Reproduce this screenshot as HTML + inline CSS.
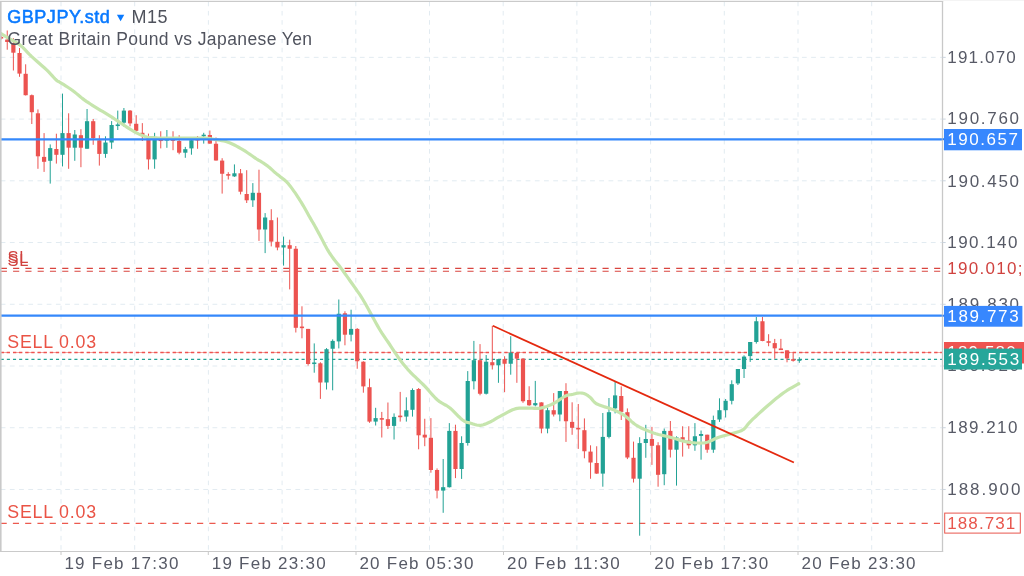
<!DOCTYPE html>
<html><head><meta charset="utf-8"><style>
html,body{margin:0;padding:0;background:#fff;width:1024px;height:576px;overflow:hidden}
</style></head><body>
<svg width="1024" height="576" viewBox="0 0 1024 576" style="position:absolute;left:0;top:0;will-change:transform">
<line x1="0.64" y1="57.35" x2="942.5" y2="57.35" stroke="#e2ebf1" stroke-width="1" stroke-dasharray="4.8 4.41"/>
<line x1="0.64" y1="119.08" x2="942.5" y2="119.08" stroke="#e2ebf1" stroke-width="1" stroke-dasharray="4.8 4.41"/>
<line x1="0.64" y1="180.81" x2="942.5" y2="180.81" stroke="#e2ebf1" stroke-width="1" stroke-dasharray="4.8 4.41"/>
<line x1="0.64" y1="242.54" x2="942.5" y2="242.54" stroke="#e2ebf1" stroke-width="1" stroke-dasharray="4.8 4.41"/>
<line x1="0.64" y1="304.27" x2="942.5" y2="304.27" stroke="#e2ebf1" stroke-width="1" stroke-dasharray="4.8 4.41"/>
<line x1="0.64" y1="366.00" x2="942.5" y2="366.00" stroke="#e2ebf1" stroke-width="1" stroke-dasharray="4.8 4.41"/>
<line x1="0.64" y1="427.73" x2="942.5" y2="427.73" stroke="#e2ebf1" stroke-width="1" stroke-dasharray="4.8 4.41"/>
<line x1="0.64" y1="489.46" x2="942.5" y2="489.46" stroke="#e2ebf1" stroke-width="1" stroke-dasharray="4.8 4.41"/>
<line x1="61.00" y1="1.69" x2="61.00" y2="551.0" stroke="#e2ebf1" stroke-width="1" stroke-dasharray="4.6 4.61"/>
<line x1="134.70" y1="1.69" x2="134.70" y2="551.0" stroke="#e2ebf1" stroke-width="1" stroke-dasharray="4.6 4.61"/>
<line x1="208.40" y1="1.69" x2="208.40" y2="551.0" stroke="#e2ebf1" stroke-width="1" stroke-dasharray="4.6 4.61"/>
<line x1="282.10" y1="1.69" x2="282.10" y2="551.0" stroke="#e2ebf1" stroke-width="1" stroke-dasharray="4.6 4.61"/>
<line x1="355.80" y1="1.69" x2="355.80" y2="551.0" stroke="#e2ebf1" stroke-width="1" stroke-dasharray="4.6 4.61"/>
<line x1="429.50" y1="1.69" x2="429.50" y2="551.0" stroke="#e2ebf1" stroke-width="1" stroke-dasharray="4.6 4.61"/>
<line x1="503.20" y1="1.69" x2="503.20" y2="551.0" stroke="#e2ebf1" stroke-width="1" stroke-dasharray="4.6 4.61"/>
<line x1="576.90" y1="1.69" x2="576.90" y2="551.0" stroke="#e2ebf1" stroke-width="1" stroke-dasharray="4.6 4.61"/>
<line x1="650.60" y1="1.69" x2="650.60" y2="551.0" stroke="#e2ebf1" stroke-width="1" stroke-dasharray="4.6 4.61"/>
<line x1="724.30" y1="1.69" x2="724.30" y2="551.0" stroke="#e2ebf1" stroke-width="1" stroke-dasharray="4.6 4.61"/>
<line x1="798.00" y1="1.69" x2="798.00" y2="551.0" stroke="#e2ebf1" stroke-width="1" stroke-dasharray="4.6 4.61"/>
<line x1="871.70" y1="1.69" x2="871.70" y2="551.0" stroke="#e2ebf1" stroke-width="1" stroke-dasharray="4.6 4.61"/>
<line x1="0" y1="268.4" x2="942.5" y2="268.4" stroke="#d9443f" stroke-width="1.1" stroke-dasharray="6.14 6.14" stroke-dashoffset="-0.8"/>
<line x1="0" y1="271.3" x2="942.5" y2="271.3" stroke="#d9443f" stroke-width="1.1" stroke-dasharray="6.14 6.14" stroke-dashoffset="-0.8"/>
<line x1="0.6" y1="523.4" x2="942.5" y2="523.4" stroke="#ec5a4f" stroke-width="1.3" stroke-dasharray="6.14 6.14"/>
<line x1="0.7" y1="352.5" x2="942.5" y2="352.5" stroke="#f3a7a2" stroke-width="1.2" stroke-dasharray="9.3 2.983"/>
<line x1="0.7" y1="352.5" x2="942.5" y2="352.5" stroke="#ef5350" stroke-width="1.5" stroke-dasharray="3.3 2.7 3.3 2.983"/>
<line x1="0.7" y1="359.4" x2="942.5" y2="359.4" stroke="#22a295" stroke-width="1.4" stroke-dasharray="3.1 3.04"/>
<rect x="0.60" y="36.00" width="1.0" height="3.50" fill="#ec5350"/>
<rect x="-1.00" y="36.95" width="4.2" height="1.60" fill="#ec5350"/>
<rect x="6.74" y="30.50" width="1.0" height="19.20" fill="#ec5350"/>
<rect x="5.14" y="39.60" width="4.2" height="2.40" fill="#ec5350"/>
<rect x="12.88" y="38.20" width="1.0" height="32.30" fill="#ec5350"/>
<rect x="11.28" y="43.00" width="4.2" height="9.70" fill="#ec5350"/>
<rect x="19.02" y="48.00" width="1.0" height="28.80" fill="#ec5350"/>
<rect x="17.42" y="53.00" width="4.2" height="20.60" fill="#ec5350"/>
<rect x="25.16" y="64.30" width="1.0" height="31.20" fill="#ec5350"/>
<rect x="23.56" y="73.80" width="4.2" height="21.40" fill="#ec5350"/>
<rect x="31.30" y="94.50" width="1.0" height="29.50" fill="#ec5350"/>
<rect x="29.70" y="95.20" width="4.2" height="17.00" fill="#ec5350"/>
<rect x="37.44" y="109.40" width="1.0" height="59.40" fill="#ec5350"/>
<rect x="35.84" y="113.30" width="4.2" height="43.00" fill="#ec5350"/>
<rect x="43.58" y="133.10" width="1.0" height="38.80" fill="#ec5350"/>
<rect x="41.98" y="156.90" width="4.2" height="4.90" fill="#ec5350"/>
<rect x="49.72" y="144.40" width="1.0" height="39.20" fill="#22a295"/>
<rect x="48.12" y="148.10" width="4.2" height="12.70" fill="#22a295"/>
<rect x="55.86" y="133.70" width="1.0" height="29.90" fill="#ec5350"/>
<rect x="54.26" y="149.00" width="4.2" height="5.80" fill="#ec5350"/>
<rect x="62.00" y="93.60" width="1.0" height="72.80" fill="#22a295"/>
<rect x="60.40" y="133.10" width="4.2" height="21.70" fill="#22a295"/>
<rect x="68.14" y="113.30" width="1.0" height="55.50" fill="#ec5350"/>
<rect x="66.54" y="133.10" width="4.2" height="14.60" fill="#ec5350"/>
<rect x="74.28" y="130.00" width="1.0" height="30.80" fill="#22a295"/>
<rect x="72.68" y="134.50" width="4.2" height="13.20" fill="#22a295"/>
<rect x="80.42" y="129.20" width="1.0" height="38.00" fill="#ec5350"/>
<rect x="78.82" y="135.20" width="4.2" height="12.50" fill="#ec5350"/>
<rect x="86.56" y="109.00" width="1.0" height="39.80" fill="#22a295"/>
<rect x="84.96" y="121.20" width="4.2" height="27.55" fill="#22a295"/>
<rect x="92.70" y="119.00" width="1.0" height="25.80" fill="#ec5350"/>
<rect x="91.10" y="121.20" width="4.2" height="16.90" fill="#ec5350"/>
<rect x="98.84" y="135.20" width="1.0" height="30.40" fill="#ec5350"/>
<rect x="97.24" y="140.30" width="4.2" height="13.60" fill="#ec5350"/>
<rect x="104.98" y="136.30" width="1.0" height="21.50" fill="#22a295"/>
<rect x="103.38" y="142.50" width="4.2" height="11.40" fill="#22a295"/>
<rect x="111.12" y="121.10" width="1.0" height="27.70" fill="#22a295"/>
<rect x="109.52" y="125.00" width="4.2" height="17.50" fill="#22a295"/>
<rect x="117.26" y="110.60" width="1.0" height="19.40" fill="#22a295"/>
<rect x="115.66" y="124.45" width="4.2" height="1.60" fill="#22a295"/>
<rect x="123.40" y="108.00" width="1.0" height="18.60" fill="#22a295"/>
<rect x="121.80" y="110.60" width="4.2" height="12.10" fill="#22a295"/>
<rect x="129.54" y="110.00" width="1.0" height="16.30" fill="#ec5350"/>
<rect x="127.94" y="110.60" width="4.2" height="12.80" fill="#ec5350"/>
<rect x="135.68" y="115.20" width="1.0" height="16.10" fill="#ec5350"/>
<rect x="134.08" y="123.80" width="4.2" height="7.00" fill="#ec5350"/>
<rect x="141.82" y="123.10" width="1.0" height="17.90" fill="#ec5350"/>
<rect x="140.22" y="132.80" width="4.2" height="3.20" fill="#ec5350"/>
<rect x="147.96" y="133.60" width="1.0" height="35.90" fill="#ec5350"/>
<rect x="146.36" y="138.30" width="4.2" height="21.10" fill="#ec5350"/>
<rect x="154.10" y="132.80" width="1.0" height="35.95" fill="#22a295"/>
<rect x="152.50" y="137.10" width="4.2" height="22.30" fill="#22a295"/>
<rect x="160.24" y="131.25" width="1.0" height="17.15" fill="#ec5350"/>
<rect x="158.64" y="139.45" width="4.2" height="1.60" fill="#ec5350"/>
<rect x="166.38" y="130.00" width="1.0" height="17.80" fill="#22a295"/>
<rect x="164.78" y="139.00" width="4.2" height="1.60" fill="#22a295"/>
<rect x="172.52" y="131.25" width="1.0" height="18.95" fill="#ec5350"/>
<rect x="170.92" y="139.20" width="4.2" height="1.60" fill="#ec5350"/>
<rect x="178.66" y="135.20" width="1.0" height="19.10" fill="#ec5350"/>
<rect x="177.06" y="141.00" width="4.2" height="11.70" fill="#ec5350"/>
<rect x="184.80" y="146.90" width="1.0" height="10.90" fill="#22a295"/>
<rect x="183.20" y="149.20" width="4.2" height="3.50" fill="#22a295"/>
<rect x="190.94" y="138.50" width="1.0" height="16.20" fill="#22a295"/>
<rect x="189.34" y="140.20" width="4.2" height="8.20" fill="#22a295"/>
<rect x="197.08" y="136.00" width="1.0" height="12.80" fill="#ec5350"/>
<rect x="195.48" y="138.90" width="4.2" height="1.60" fill="#ec5350"/>
<rect x="203.22" y="132.80" width="1.0" height="10.80" fill="#22a295"/>
<rect x="201.62" y="134.70" width="4.2" height="1.60" fill="#22a295"/>
<rect x="209.36" y="130.50" width="1.0" height="13.30" fill="#ec5350"/>
<rect x="207.76" y="135.00" width="4.2" height="8.60" fill="#ec5350"/>
<rect x="215.50" y="137.50" width="1.0" height="23.10" fill="#ec5350"/>
<rect x="213.90" y="143.75" width="4.2" height="16.75" fill="#ec5350"/>
<rect x="221.64" y="158.20" width="1.0" height="35.40" fill="#ec5350"/>
<rect x="220.04" y="160.60" width="4.2" height="13.15" fill="#ec5350"/>
<rect x="227.78" y="172.20" width="1.0" height="7.30" fill="#ec5350"/>
<rect x="226.18" y="174.10" width="4.2" height="1.60" fill="#ec5350"/>
<rect x="233.92" y="164.40" width="1.0" height="12.50" fill="#22a295"/>
<rect x="232.32" y="173.30" width="4.2" height="3.10" fill="#22a295"/>
<rect x="240.06" y="169.00" width="1.0" height="25.40" fill="#ec5350"/>
<rect x="238.46" y="173.30" width="4.2" height="18.40" fill="#ec5350"/>
<rect x="246.20" y="170.20" width="1.0" height="32.80" fill="#ec5350"/>
<rect x="244.60" y="194.00" width="4.2" height="6.30" fill="#ec5350"/>
<rect x="252.34" y="183.10" width="1.0" height="23.80" fill="#22a295"/>
<rect x="250.74" y="192.80" width="4.2" height="7.50" fill="#22a295"/>
<rect x="258.48" y="169.70" width="1.0" height="71.20" fill="#ec5350"/>
<rect x="256.88" y="192.80" width="4.2" height="36.70" fill="#ec5350"/>
<rect x="264.62" y="213.10" width="1.0" height="40.00" fill="#22a295"/>
<rect x="263.02" y="217.50" width="4.2" height="12.00" fill="#22a295"/>
<rect x="270.76" y="209.20" width="1.0" height="37.20" fill="#ec5350"/>
<rect x="269.16" y="220.20" width="4.2" height="21.40" fill="#ec5350"/>
<rect x="276.90" y="217.50" width="1.0" height="32.80" fill="#ec5350"/>
<rect x="275.30" y="241.80" width="4.2" height="5.70" fill="#ec5350"/>
<rect x="283.04" y="236.60" width="1.0" height="29.00" fill="#22a295"/>
<rect x="281.44" y="245.20" width="4.2" height="2.30" fill="#22a295"/>
<rect x="289.18" y="239.70" width="1.0" height="49.70" fill="#ec5350"/>
<rect x="287.58" y="245.20" width="4.2" height="3.55" fill="#ec5350"/>
<rect x="295.32" y="246.00" width="1.0" height="86.50" fill="#ec5350"/>
<rect x="293.72" y="248.75" width="4.2" height="79.05" fill="#ec5350"/>
<rect x="301.46" y="306.30" width="1.0" height="32.00" fill="#ec5350"/>
<rect x="299.86" y="326.55" width="4.2" height="1.60" fill="#ec5350"/>
<rect x="307.60" y="328.90" width="1.0" height="36.70" fill="#ec5350"/>
<rect x="306.00" y="328.90" width="4.2" height="35.10" fill="#ec5350"/>
<rect x="313.74" y="343.40" width="1.0" height="29.30" fill="#22a295"/>
<rect x="312.14" y="362.47" width="4.2" height="1.60" fill="#22a295"/>
<rect x="319.88" y="362.20" width="1.0" height="36.70" fill="#ec5350"/>
<rect x="318.28" y="363.30" width="4.2" height="19.20" fill="#ec5350"/>
<rect x="326.02" y="348.10" width="1.0" height="41.40" fill="#22a295"/>
<rect x="324.42" y="349.20" width="4.2" height="33.30" fill="#22a295"/>
<rect x="332.16" y="339.40" width="1.0" height="50.90" fill="#22a295"/>
<rect x="330.56" y="340.90" width="4.2" height="7.85" fill="#22a295"/>
<rect x="338.30" y="299.50" width="1.0" height="48.90" fill="#22a295"/>
<rect x="336.70" y="313.75" width="4.2" height="27.65" fill="#22a295"/>
<rect x="344.44" y="311.25" width="1.0" height="34.05" fill="#ec5350"/>
<rect x="342.84" y="313.30" width="4.2" height="21.40" fill="#ec5350"/>
<rect x="350.58" y="309.70" width="1.0" height="31.70" fill="#22a295"/>
<rect x="348.98" y="328.90" width="4.2" height="5.80" fill="#22a295"/>
<rect x="356.72" y="328.10" width="1.0" height="40.65" fill="#ec5350"/>
<rect x="355.12" y="328.90" width="4.2" height="32.35" fill="#ec5350"/>
<rect x="362.86" y="361.25" width="1.0" height="31.45" fill="#ec5350"/>
<rect x="361.26" y="361.70" width="4.2" height="24.70" fill="#ec5350"/>
<rect x="369.00" y="378.60" width="1.0" height="44.20" fill="#ec5350"/>
<rect x="367.40" y="387.20" width="4.2" height="34.40" fill="#ec5350"/>
<rect x="375.14" y="407.80" width="1.0" height="17.70" fill="#22a295"/>
<rect x="373.54" y="418.10" width="4.2" height="3.50" fill="#22a295"/>
<rect x="381.28" y="411.90" width="1.0" height="25.60" fill="#ec5350"/>
<rect x="379.68" y="418.10" width="4.2" height="1.60" fill="#ec5350"/>
<rect x="387.42" y="402.50" width="1.0" height="26.50" fill="#ec5350"/>
<rect x="385.82" y="419.20" width="4.2" height="6.70" fill="#ec5350"/>
<rect x="393.56" y="413.40" width="1.0" height="26.10" fill="#22a295"/>
<rect x="391.96" y="416.90" width="4.2" height="9.00" fill="#22a295"/>
<rect x="399.70" y="391.90" width="1.0" height="29.70" fill="#ec5350"/>
<rect x="398.10" y="415.60" width="4.2" height="1.60" fill="#ec5350"/>
<rect x="405.84" y="397.30" width="1.0" height="24.30" fill="#22a295"/>
<rect x="404.24" y="410.30" width="4.2" height="6.30" fill="#22a295"/>
<rect x="411.98" y="388.40" width="1.0" height="28.20" fill="#22a295"/>
<rect x="410.38" y="390.00" width="4.2" height="19.80" fill="#22a295"/>
<rect x="418.12" y="388.00" width="1.0" height="61.30" fill="#ec5350"/>
<rect x="416.52" y="389.00" width="4.2" height="46.30" fill="#ec5350"/>
<rect x="424.26" y="418.75" width="1.0" height="27.45" fill="#ec5350"/>
<rect x="422.66" y="434.70" width="4.2" height="2.80" fill="#ec5350"/>
<rect x="430.40" y="418.10" width="1.0" height="54.60" fill="#ec5350"/>
<rect x="428.80" y="437.80" width="4.2" height="32.20" fill="#ec5350"/>
<rect x="436.54" y="468.40" width="1.0" height="30.00" fill="#ec5350"/>
<rect x="434.94" y="470.00" width="4.2" height="20.60" fill="#ec5350"/>
<rect x="442.68" y="459.00" width="1.0" height="53.80" fill="#22a295"/>
<rect x="441.08" y="487.20" width="4.2" height="3.40" fill="#22a295"/>
<rect x="448.82" y="423.10" width="1.0" height="64.40" fill="#22a295"/>
<rect x="447.22" y="430.90" width="4.2" height="56.30" fill="#22a295"/>
<rect x="454.96" y="424.70" width="1.0" height="53.40" fill="#ec5350"/>
<rect x="453.36" y="430.90" width="4.2" height="38.10" fill="#ec5350"/>
<rect x="461.10" y="436.25" width="1.0" height="42.65" fill="#22a295"/>
<rect x="459.50" y="443.00" width="4.2" height="26.00" fill="#22a295"/>
<rect x="467.24" y="371.10" width="1.0" height="74.50" fill="#22a295"/>
<rect x="465.64" y="381.00" width="4.2" height="62.00" fill="#22a295"/>
<rect x="473.38" y="340.90" width="1.0" height="48.50" fill="#22a295"/>
<rect x="471.78" y="360.20" width="4.2" height="21.05" fill="#22a295"/>
<rect x="479.52" y="344.10" width="1.0" height="51.20" fill="#ec5350"/>
<rect x="477.92" y="360.20" width="4.2" height="33.55" fill="#ec5350"/>
<rect x="485.66" y="355.00" width="1.0" height="39.50" fill="#22a295"/>
<rect x="484.06" y="361.70" width="4.2" height="32.05" fill="#22a295"/>
<rect x="491.80" y="325.80" width="1.0" height="43.70" fill="#ec5350"/>
<rect x="490.20" y="362.20" width="4.2" height="3.10" fill="#ec5350"/>
<rect x="497.94" y="359.10" width="1.0" height="23.70" fill="#22a295"/>
<rect x="496.34" y="359.10" width="4.2" height="6.20" fill="#22a295"/>
<rect x="504.08" y="356.25" width="1.0" height="35.95" fill="#ec5350"/>
<rect x="502.48" y="359.10" width="4.2" height="4.65" fill="#ec5350"/>
<rect x="510.22" y="336.25" width="1.0" height="38.45" fill="#22a295"/>
<rect x="508.62" y="352.80" width="4.2" height="10.95" fill="#22a295"/>
<rect x="516.36" y="351.90" width="1.0" height="30.90" fill="#ec5350"/>
<rect x="514.76" y="352.80" width="4.2" height="5.80" fill="#ec5350"/>
<rect x="522.50" y="358.10" width="1.0" height="44.70" fill="#ec5350"/>
<rect x="520.90" y="358.60" width="4.2" height="42.65" fill="#ec5350"/>
<rect x="528.64" y="386.25" width="1.0" height="19.55" fill="#ec5350"/>
<rect x="527.04" y="400.00" width="4.2" height="5.30" fill="#ec5350"/>
<rect x="534.78" y="380.90" width="1.0" height="25.50" fill="#22a295"/>
<rect x="533.18" y="403.10" width="4.2" height="2.20" fill="#22a295"/>
<rect x="540.92" y="402.30" width="1.0" height="31.00" fill="#ec5350"/>
<rect x="539.32" y="402.40" width="4.2" height="26.20" fill="#ec5350"/>
<rect x="547.06" y="407.80" width="1.0" height="25.50" fill="#22a295"/>
<rect x="545.46" y="410.20" width="4.2" height="18.40" fill="#22a295"/>
<rect x="553.20" y="393.10" width="1.0" height="23.40" fill="#ec5350"/>
<rect x="551.60" y="410.20" width="4.2" height="4.30" fill="#ec5350"/>
<rect x="559.34" y="391.00" width="1.0" height="30.25" fill="#22a295"/>
<rect x="557.74" y="391.00" width="4.2" height="23.50" fill="#22a295"/>
<rect x="565.48" y="383.20" width="1.0" height="58.70" fill="#ec5350"/>
<rect x="563.88" y="391.00" width="4.2" height="30.25" fill="#ec5350"/>
<rect x="571.62" y="402.30" width="1.0" height="32.50" fill="#ec5350"/>
<rect x="570.02" y="421.90" width="4.2" height="5.90" fill="#ec5350"/>
<rect x="577.76" y="404.00" width="1.0" height="44.90" fill="#ec5350"/>
<rect x="576.16" y="427.80" width="4.2" height="1.60" fill="#ec5350"/>
<rect x="583.90" y="418.40" width="1.0" height="39.90" fill="#ec5350"/>
<rect x="582.30" y="430.20" width="4.2" height="21.05" fill="#ec5350"/>
<rect x="590.04" y="445.30" width="1.0" height="33.45" fill="#ec5350"/>
<rect x="588.44" y="451.60" width="4.2" height="10.90" fill="#ec5350"/>
<rect x="596.18" y="446.25" width="1.0" height="27.65" fill="#ec5350"/>
<rect x="594.58" y="463.00" width="4.2" height="10.60" fill="#ec5350"/>
<rect x="602.32" y="413.00" width="1.0" height="73.70" fill="#22a295"/>
<rect x="600.72" y="436.90" width="4.2" height="36.70" fill="#22a295"/>
<rect x="608.46" y="398.00" width="1.0" height="40.40" fill="#22a295"/>
<rect x="606.86" y="412.20" width="4.2" height="24.70" fill="#22a295"/>
<rect x="614.60" y="382.00" width="1.0" height="31.40" fill="#22a295"/>
<rect x="613.00" y="395.40" width="4.2" height="13.00" fill="#22a295"/>
<rect x="620.74" y="386.40" width="1.0" height="33.60" fill="#ec5350"/>
<rect x="619.14" y="396.00" width="4.2" height="15.90" fill="#ec5350"/>
<rect x="626.88" y="408.40" width="1.0" height="50.70" fill="#ec5350"/>
<rect x="625.28" y="412.20" width="4.2" height="45.30" fill="#ec5350"/>
<rect x="633.02" y="441.60" width="1.0" height="40.90" fill="#ec5350"/>
<rect x="631.42" y="457.80" width="4.2" height="20.90" fill="#ec5350"/>
<rect x="639.16" y="437.20" width="1.0" height="98.50" fill="#22a295"/>
<rect x="637.56" y="443.10" width="4.2" height="35.60" fill="#22a295"/>
<rect x="645.30" y="424.80" width="1.0" height="33.00" fill="#22a295"/>
<rect x="643.70" y="439.00" width="4.2" height="4.00" fill="#22a295"/>
<rect x="651.44" y="426.90" width="1.0" height="38.00" fill="#ec5350"/>
<rect x="649.84" y="439.00" width="4.2" height="6.80" fill="#ec5350"/>
<rect x="657.58" y="442.20" width="1.0" height="44.50" fill="#ec5350"/>
<rect x="655.98" y="445.30" width="4.2" height="29.50" fill="#ec5350"/>
<rect x="663.72" y="428.50" width="1.0" height="56.70" fill="#22a295"/>
<rect x="662.12" y="430.90" width="4.2" height="43.30" fill="#22a295"/>
<rect x="669.86" y="421.00" width="1.0" height="36.50" fill="#ec5350"/>
<rect x="668.26" y="430.90" width="4.2" height="18.80" fill="#ec5350"/>
<rect x="676.00" y="436.30" width="1.0" height="49.30" fill="#22a295"/>
<rect x="674.40" y="437.40" width="4.2" height="12.30" fill="#22a295"/>
<rect x="682.14" y="426.25" width="1.0" height="30.35" fill="#ec5350"/>
<rect x="680.54" y="437.20" width="4.2" height="2.60" fill="#ec5350"/>
<rect x="688.28" y="426.25" width="1.0" height="22.50" fill="#ec5350"/>
<rect x="686.68" y="440.60" width="4.2" height="4.70" fill="#ec5350"/>
<rect x="694.42" y="423.10" width="1.0" height="27.70" fill="#22a295"/>
<rect x="692.82" y="436.25" width="4.2" height="9.05" fill="#22a295"/>
<rect x="700.56" y="430.50" width="1.0" height="29.20" fill="#22a295"/>
<rect x="698.96" y="434.00" width="4.2" height="1.90" fill="#22a295"/>
<rect x="706.70" y="434.70" width="1.0" height="18.10" fill="#ec5350"/>
<rect x="705.10" y="434.70" width="4.2" height="15.00" fill="#ec5350"/>
<rect x="712.84" y="415.60" width="1.0" height="37.20" fill="#22a295"/>
<rect x="711.24" y="420.00" width="4.2" height="29.70" fill="#22a295"/>
<rect x="718.98" y="398.30" width="1.0" height="23.60" fill="#22a295"/>
<rect x="717.38" y="410.20" width="4.2" height="9.30" fill="#22a295"/>
<rect x="725.12" y="399.00" width="1.0" height="18.50" fill="#22a295"/>
<rect x="723.52" y="400.80" width="4.2" height="9.40" fill="#22a295"/>
<rect x="731.26" y="380.30" width="1.0" height="24.10" fill="#22a295"/>
<rect x="729.66" y="384.20" width="4.2" height="16.60" fill="#22a295"/>
<rect x="737.40" y="369.00" width="1.0" height="16.00" fill="#22a295"/>
<rect x="735.80" y="369.00" width="4.2" height="14.40" fill="#22a295"/>
<rect x="743.54" y="355.30" width="1.0" height="22.70" fill="#22a295"/>
<rect x="741.94" y="356.60" width="4.2" height="12.40" fill="#22a295"/>
<rect x="749.68" y="342.00" width="1.0" height="19.90" fill="#22a295"/>
<rect x="748.08" y="342.00" width="4.2" height="14.10" fill="#22a295"/>
<rect x="755.82" y="317.00" width="1.0" height="26.60" fill="#22a295"/>
<rect x="754.22" y="321.25" width="4.2" height="20.75" fill="#22a295"/>
<rect x="761.96" y="317.00" width="1.0" height="24.25" fill="#ec5350"/>
<rect x="760.36" y="321.25" width="4.2" height="19.75" fill="#ec5350"/>
<rect x="768.10" y="334.20" width="1.0" height="12.05" fill="#ec5350"/>
<rect x="766.50" y="341.22" width="4.2" height="1.60" fill="#ec5350"/>
<rect x="774.24" y="338.90" width="1.0" height="19.85" fill="#ec5350"/>
<rect x="772.64" y="343.10" width="4.2" height="5.20" fill="#ec5350"/>
<rect x="780.38" y="338.90" width="1.0" height="10.90" fill="#ec5350"/>
<rect x="778.78" y="348.47" width="4.2" height="1.60" fill="#ec5350"/>
<rect x="786.52" y="350.30" width="1.0" height="12.00" fill="#ec5350"/>
<rect x="784.92" y="350.30" width="4.2" height="8.10" fill="#ec5350"/>
<rect x="792.66" y="351.90" width="1.0" height="9.70" fill="#ec5350"/>
<rect x="791.06" y="359.20" width="4.2" height="1.60" fill="#ec5350"/>
<rect x="798.80" y="357.20" width="1.0" height="5.60" fill="#22a295"/>
<rect x="797.20" y="359.20" width="4.2" height="1.60" fill="#22a295"/>
<path d="M0.00,33.00 L1.08,33.65 L2.58,34.55 L4.36,35.61 L6.27,36.76 L8.20,37.92 L10.00,39.00 L11.69,39.97 L13.39,40.88 L15.09,41.79 L16.81,42.78 L18.54,43.89 L20.30,45.20 L22.03,46.71 L23.73,48.37 L25.44,50.16 L27.23,52.06 L29.15,54.04 L31.25,56.10 L33.66,58.31 L36.35,60.72 L39.17,63.22 L41.98,65.70 L44.60,68.06 L46.90,70.20 L48.89,72.17 L50.69,74.06 L52.32,75.84 L53.78,77.45 L55.09,78.85 L56.25,80.00 L57.10,80.75 L57.60,81.11 L57.95,81.27 L58.33,81.40 L58.95,81.68 L60.00,82.30 L61.55,83.27 L63.44,84.45 L65.58,85.79 L67.83,87.23 L70.07,88.71 L72.20,90.20 L74.22,91.73 L76.24,93.37 L78.25,95.05 L80.26,96.73 L82.28,98.37 L84.30,99.90 L86.33,101.33 L88.36,102.69 L90.40,104.00 L92.44,105.28 L94.47,106.54 L96.50,107.80 L98.52,109.04 L100.54,110.26 L102.55,111.45 L104.57,112.64 L106.58,113.86 L108.60,115.10 L110.62,116.38 L112.65,117.69 L114.67,119.01 L116.70,120.34 L118.72,121.68 L120.75,123.00 L122.78,124.34 L124.80,125.72 L126.83,127.09 L128.85,128.44 L130.88,129.72 L132.90,130.90 L134.94,132.02 L137.01,133.10 L139.08,134.11 L141.12,135.04 L143.11,135.84 L145.00,136.50 L146.79,136.98 L148.49,137.29 L150.13,137.48 L151.74,137.60 L153.36,137.69 L155.00,137.80 L156.49,137.91 L157.78,137.99 L159.06,138.03 L160.56,138.06 L162.47,138.08 L165.00,138.10 L168.41,138.12 L172.59,138.12 L177.19,138.12 L181.85,138.11 L186.24,138.10 L190.00,138.10 L193.13,138.08 L195.90,138.04 L198.40,138.01 L200.70,137.99 L202.87,138.01 L205.00,138.10 L207.00,138.25 L208.79,138.45 L210.46,138.69 L212.10,138.96 L213.78,139.27 L215.60,139.60 L217.56,139.93 L219.60,140.26 L221.68,140.61 L223.79,141.03 L225.91,141.55 L228.00,142.20 L230.11,143.01 L232.27,143.97 L234.43,145.03 L236.55,146.14 L238.59,147.24 L240.50,148.30 L242.29,149.34 L244.01,150.40 L245.64,151.46 L247.19,152.50 L248.64,153.48 L250.00,154.40 L251.23,155.23 L252.32,156.00 L253.33,156.72 L254.29,157.41 L255.25,158.08 L256.25,158.75 L257.29,159.40 L258.33,160.02 L259.38,160.62 L260.42,161.22 L261.46,161.84 L262.50,162.50 L263.54,163.18 L264.58,163.87 L265.62,164.58 L266.67,165.32 L267.71,166.09 L268.75,166.90 L269.79,167.77 L270.83,168.70 L271.88,169.66 L272.92,170.63 L273.96,171.59 L275.00,172.50 L276.04,173.36 L277.08,174.20 L278.12,175.02 L279.17,175.83 L280.21,176.66 L281.25,177.50 L282.28,178.32 L283.29,179.09 L284.31,179.86 L285.34,180.70 L286.40,181.66 L287.50,182.80 L288.68,184.16 L289.92,185.72 L291.19,187.39 L292.45,189.11 L293.67,190.81 L294.80,192.40 L295.84,193.89 L296.81,195.34 L297.73,196.76 L298.63,198.16 L299.51,199.57 L300.40,201.00 L301.29,202.44 L302.18,203.89 L303.05,205.34 L303.91,206.80 L304.76,208.25 L305.60,209.70 L306.43,211.17 L307.26,212.68 L308.08,214.18 L308.88,215.66 L309.66,217.07 L310.40,218.40 L311.07,219.56 L311.67,220.55 L312.24,221.48 L312.83,222.46 L313.50,223.60 L314.30,225.00 L315.24,226.70 L316.29,228.62 L317.41,230.70 L318.58,232.87 L319.75,235.06 L320.90,237.20 L322.04,239.37 L323.21,241.62 L324.38,243.90 L325.55,246.13 L326.69,248.26 L327.80,250.20 L328.85,251.93 L329.86,253.51 L330.85,254.97 L331.84,256.37 L332.85,257.76 L333.90,259.20 L334.93,260.55 L335.89,261.74 L336.88,262.92 L337.97,264.25 L339.25,265.86 L340.80,267.90 L342.74,270.55 L345.04,273.73 L347.52,277.19 L350.02,280.70 L352.37,284.01 L354.40,286.90 L356.07,289.27 L357.50,291.30 L358.79,293.13 L360.01,294.93 L361.25,296.83 L362.60,299.00 L364.05,301.45 L365.54,304.08 L367.05,306.81 L368.57,309.60 L370.09,312.38 L371.60,315.10 L373.10,317.79 L374.60,320.50 L376.09,323.21 L377.59,325.89 L379.09,328.49 L380.60,331.00 L382.11,333.39 L383.63,335.68 L385.15,337.90 L386.67,340.09 L388.19,342.28 L389.70,344.50 L391.21,346.78 L392.71,349.08 L394.21,351.39 L395.70,353.66 L397.20,355.88 L398.70,358.00 L400.20,360.04 L401.70,362.01 L403.20,363.93 L404.70,365.78 L406.20,367.57 L407.70,369.30 L409.21,370.96 L410.73,372.54 L412.24,374.06 L413.75,375.53 L415.24,376.97 L416.70,378.40 L418.08,379.73 L419.36,380.94 L420.63,382.12 L421.95,383.36 L423.38,384.76 L425.00,386.40 L426.84,388.41 L428.86,390.73 L430.99,393.20 L433.18,395.67 L435.37,397.99 L437.50,400.00 L439.58,401.61 L441.67,402.93 L443.75,404.10 L445.83,405.24 L447.92,406.50 L450.00,408.00 L452.14,409.87 L454.35,412.04 L456.56,414.31 L458.70,416.52 L460.71,418.47 L462.50,420.00 L464.01,421.03 L465.28,421.69 L466.41,422.11 L467.50,422.39 L468.66,422.64 L470.00,423.00 L471.52,423.49 L473.15,424.03 L474.84,424.54 L476.57,424.97 L478.30,425.25 L480.00,425.30 L481.67,425.10 L483.33,424.70 L485.00,424.14 L486.67,423.48 L488.33,422.75 L490.00,422.00 L491.61,421.22 L493.15,420.37 L494.69,419.46 L496.30,418.49 L498.04,417.47 L500.00,416.40 L502.23,415.18 L504.70,413.79 L507.31,412.35 L509.96,410.97 L512.56,409.78 L515.00,408.90 L517.29,408.37 L519.50,408.11 L521.66,408.03 L523.78,408.06 L525.89,408.11 L528.00,408.10 L530.11,408.10 L532.20,408.20 L534.28,408.32 L536.35,408.39 L538.42,408.34 L540.50,408.10 L542.58,407.67 L544.67,407.10 L546.75,406.41 L548.83,405.61 L550.92,404.72 L553.00,403.75 L555.15,402.58 L557.39,401.19 L559.62,399.70 L561.78,398.25 L563.76,396.97 L565.50,396.00 L566.94,395.39 L568.13,395.03 L569.16,394.85 L570.09,394.76 L571.02,394.67 L572.00,394.50 L573.03,394.24 L574.04,393.96 L575.03,393.68 L576.02,393.43 L577.01,393.23 L578.00,393.10 L579.00,393.02 L580.00,392.98 L581.00,392.98 L582.00,393.06 L583.00,393.22 L584.00,393.50 L585.01,393.90 L586.02,394.41 L587.03,395.01 L588.04,395.68 L589.03,396.42 L590.00,397.20 L590.92,398.09 L591.80,399.11 L592.66,400.18 L593.54,401.26 L594.47,402.25 L595.50,403.10 L596.58,403.77 L597.67,404.31 L598.81,404.77 L600.06,405.21 L601.44,405.69 L603.00,406.25 L604.82,406.89 L606.89,407.56 L609.09,408.27 L611.33,409.01 L613.50,409.79 L615.50,410.60 L617.33,411.45 L619.06,412.32 L620.73,413.23 L622.35,414.18 L623.93,415.19 L625.50,416.25 L627.03,417.42 L628.51,418.71 L629.95,420.04 L631.38,421.37 L632.81,422.62 L634.25,423.75 L635.66,424.73 L637.01,425.60 L638.36,426.41 L639.77,427.18 L641.30,427.95 L643.00,428.75 L644.89,429.60 L646.94,430.46 L649.09,431.33 L651.34,432.18 L653.65,432.99 L656.00,433.75 L658.41,434.44 L660.90,435.07 L663.46,435.66 L666.05,436.25 L668.66,436.85 L671.25,437.50 L673.84,438.23 L676.44,439.04 L679.05,439.87 L681.67,440.65 L684.29,441.35 L686.90,441.90 L689.59,442.31 L692.39,442.63 L695.19,442.85 L697.88,442.99 L700.35,443.03 L702.50,443.00 L704.25,442.86 L705.68,442.62 L706.89,442.29 L707.99,441.89 L709.09,441.46 L710.30,441.00 L711.51,440.51 L712.61,439.98 L713.71,439.40 L714.92,438.79 L716.35,438.15 L718.10,437.50 L720.33,436.81 L722.97,436.06 L725.83,435.29 L728.71,434.53 L731.42,433.79 L733.75,433.10 L735.71,432.52 L737.45,432.03 L739.01,431.57 L740.44,431.07 L741.79,430.47 L743.10,429.70 L744.32,428.72 L745.41,427.58 L746.42,426.33 L747.39,425.05 L748.37,423.78 L749.40,422.60 L750.41,421.55 L751.36,420.61 L752.31,419.68 L753.35,418.70 L754.56,417.58 L756.00,416.25 L757.71,414.67 L759.62,412.91 L761.69,411.01 L763.89,409.02 L766.17,407.00 L768.50,405.00 L770.92,402.95 L773.47,400.79 L776.11,398.59 L778.78,396.44 L781.43,394.38 L784.00,392.50 L786.67,390.72 L789.52,388.98 L792.34,387.34 L794.95,385.88 L797.15,384.66 L798.75,383.75" fill="none" stroke="#c6e5ad" stroke-width="3.2" stroke-linejoin="round" stroke-linecap="round"/>
<line x1="0" y1="139.3" x2="942.5" y2="139.3" stroke="#3588fb" stroke-width="2.3"/>
<line x1="0" y1="315.7" x2="942.5" y2="315.7" stroke="#3588fb" stroke-width="2.3"/>
<line x1="492.8" y1="325.8" x2="793.9" y2="462.5" stroke="#e4290f" stroke-width="1.75"/>
<rect x="0" y="0" width="1024" height="1" fill="#f4f4f4"/>
<line x1="0" y1="1.5" x2="943.15" y2="1.5" stroke="#cacaca" stroke-width="1"/>
<line x1="0.8" y1="1" x2="0.8" y2="552" stroke="#c9c9c9" stroke-width="1.6"/>
<line x1="942.5" y1="1" x2="942.5" y2="552" stroke="#c8c8c8" stroke-width="1.3"/>
<line x1="0" y1="551.5" x2="943.15" y2="551.5" stroke="#cacaca" stroke-width="1"/>
<line x1="942.5" y1="57.35" x2="945.7" y2="57.35" stroke="#c9d3de" stroke-width="1"/>
<line x1="942.5" y1="119.08" x2="945.7" y2="119.08" stroke="#c9d3de" stroke-width="1"/>
<line x1="942.5" y1="180.81" x2="945.7" y2="180.81" stroke="#c9d3de" stroke-width="1"/>
<line x1="942.5" y1="242.54" x2="945.7" y2="242.54" stroke="#c9d3de" stroke-width="1"/>
<line x1="942.5" y1="304.27" x2="945.7" y2="304.27" stroke="#c9d3de" stroke-width="1"/>
<line x1="942.5" y1="366.00" x2="945.7" y2="366.00" stroke="#c9d3de" stroke-width="1"/>
<line x1="942.5" y1="427.73" x2="945.7" y2="427.73" stroke="#c9d3de" stroke-width="1"/>
<line x1="942.5" y1="489.46" x2="945.7" y2="489.46" stroke="#c9d3de" stroke-width="1"/>
<line x1="61.0" y1="552" x2="61.0" y2="555" stroke="#c8c8c8" stroke-width="1"/>
<line x1="208.3" y1="552" x2="208.3" y2="555" stroke="#c8c8c8" stroke-width="1"/>
<line x1="356.0" y1="552" x2="356.0" y2="555" stroke="#c8c8c8" stroke-width="1"/>
<line x1="503.5" y1="552" x2="503.5" y2="555" stroke="#c8c8c8" stroke-width="1"/>
<line x1="650.6" y1="552" x2="650.6" y2="555" stroke="#c8c8c8" stroke-width="1"/>
<line x1="798.0" y1="552" x2="798.0" y2="555" stroke="#c8c8c8" stroke-width="1"/>
<line x1="942.5" y1="139.2" x2="945.5" y2="139.2" stroke="#2f7ff0" stroke-width="2"/>
<line x1="942.5" y1="315.7" x2="945.5" y2="315.7" stroke="#2f7ff0" stroke-width="2"/>
<text x="947.3" y="62.65" font-family='"Liberation Sans", sans-serif' font-size="17" fill="#575a66" letter-spacing="1.18" text-anchor="start" >191.070</text>
<text x="947.3" y="124.35" font-family='"Liberation Sans", sans-serif' font-size="17" fill="#575a66" letter-spacing="1.72" text-anchor="start" >190.760</text>
<text x="947.3" y="186.65" font-family='"Liberation Sans", sans-serif' font-size="17" fill="#575a66" letter-spacing="1.72" text-anchor="start" >190.450</text>
<text x="947.3" y="247.95" font-family='"Liberation Sans", sans-serif' font-size="17" fill="#575a66" letter-spacing="1.45" text-anchor="start" >190.140</text>
<text x="947.3" y="309.65000000000003" font-family='"Liberation Sans", sans-serif' font-size="17" fill="#575a66" letter-spacing="1.72" text-anchor="start" >189.830</text>
<text x="947.3" y="371.35" font-family='"Liberation Sans", sans-serif' font-size="17" fill="#575a66" letter-spacing="1.72" text-anchor="start" >189.520</text>
<text x="947.3" y="433.15000000000003" font-family='"Liberation Sans", sans-serif' font-size="17" fill="#575a66" letter-spacing="1.45" text-anchor="start" >189.210</text>
<text x="947.3" y="494.85" font-family='"Liberation Sans", sans-serif' font-size="17" fill="#575a66" letter-spacing="1.95" text-anchor="start" >188.900</text>
<text x="947.3" y="273.9" font-family='"Liberation Sans", sans-serif' font-size="17" fill="#d0423f" letter-spacing="1.3" text-anchor="start" >190.010;</text>
<rect x="944" y="129" width="78" height="21.3" fill="#3787fe"/>
<text x="947.3" y="145.3" font-family='"Liberation Sans", sans-serif' font-size="17" fill="#ffffff" letter-spacing="1.52" text-anchor="start" >190.657</text>
<rect x="944" y="305.9" width="78.4" height="20.8" fill="#3787fe"/>
<text x="947.3" y="322.1" font-family='"Liberation Sans", sans-serif' font-size="17" fill="#ffffff" letter-spacing="1.65" text-anchor="start" >189.773</text>
<rect x="944" y="342" width="80" height="21.5" fill="#ef5350"/>
<text x="947.3" y="358.2" font-family='"Liberation Sans", sans-serif' font-size="17" fill="#ffffff" letter-spacing="1.15" text-anchor="start" >189.580</text>
<rect x="944" y="348.6" width="78" height="20.9" fill="#26a69a"/>
<text x="947.3" y="364.8" font-family='"Liberation Sans", sans-serif' font-size="17" fill="#ffffff" letter-spacing="1.75" text-anchor="start" >189.553</text>
<rect x="944.7" y="513.1" width="75.6" height="20" fill="#ffffff" stroke="#e8564d" stroke-width="1"/>
<text x="947.3" y="528.7" font-family='"Liberation Sans", sans-serif' font-size="17" fill="#e8564d" letter-spacing="1.08" text-anchor="start" >188.731</text>
<text x="64.4" y="569.3" font-family='"Liberation Sans", sans-serif' font-size="17" fill="#575a66" letter-spacing="1.25" text-anchor="start" >19 Feb 17:30</text>
<text x="211.7" y="569.3" font-family='"Liberation Sans", sans-serif' font-size="17" fill="#575a66" letter-spacing="1.25" text-anchor="start" >19 Feb 23:30</text>
<text x="359.4" y="569.3" font-family='"Liberation Sans", sans-serif' font-size="17" fill="#575a66" letter-spacing="1.25" text-anchor="start" >20 Feb 05:30</text>
<text x="507.0" y="569.3" font-family='"Liberation Sans", sans-serif' font-size="17" fill="#575a66" letter-spacing="1.25" text-anchor="start" >20 Feb 11:30</text>
<text x="654.2" y="569.3" font-family='"Liberation Sans", sans-serif' font-size="17" fill="#575a66" letter-spacing="1.25" text-anchor="start" >20 Feb 17:30</text>
<text x="801.6" y="569.3" font-family='"Liberation Sans", sans-serif' font-size="17" fill="#575a66" letter-spacing="1.25" text-anchor="start" >20 Feb 23:30</text>
<text x="7.5" y="263.0" font-family='"Liberation Sans", sans-serif' font-size="16.5" fill="#d0423f" letter-spacing="0.8" text-anchor="start" >SL</text>
<text x="7.5" y="266.2" font-family='"Liberation Sans", sans-serif' font-size="16.5" fill="#d0423f" letter-spacing="0.8" text-anchor="start" >SL</text>
<text x="7.3" y="347.8" font-family='"Liberation Sans", sans-serif' font-size="17.8" fill="#ea5345" letter-spacing="0.8" text-anchor="start" >SELL 0.03</text>
<text x="7.3" y="518.0" font-family='"Liberation Sans", sans-serif' font-size="17.8" fill="#ea5345" letter-spacing="0.8" text-anchor="start" >SELL 0.03</text>
<text x="7.2" y="22.9" font-family='"Liberation Sans", sans-serif' font-size="18" fill="#0a7aff" letter-spacing="0.55" text-anchor="start" stroke="#0a7aff" stroke-width="0.55">GBPJPY.std</text>
<path d="M116.9,14.8 L124.3,14.8 L120.6,21.3 Z" fill="#0a7aff"/>
<text x="131.4" y="22.9" font-family='"Liberation Sans", sans-serif' font-size="18" fill="#4f525c" letter-spacing="0.5" text-anchor="start" >M15</text>
<text x="7.6" y="45.3" font-family='"Liberation Sans", sans-serif' font-size="17.5" fill="#50535e" letter-spacing="0.4" text-anchor="start" >Great Britain Pound vs Japanese Yen</text>
</svg>
</body></html>
